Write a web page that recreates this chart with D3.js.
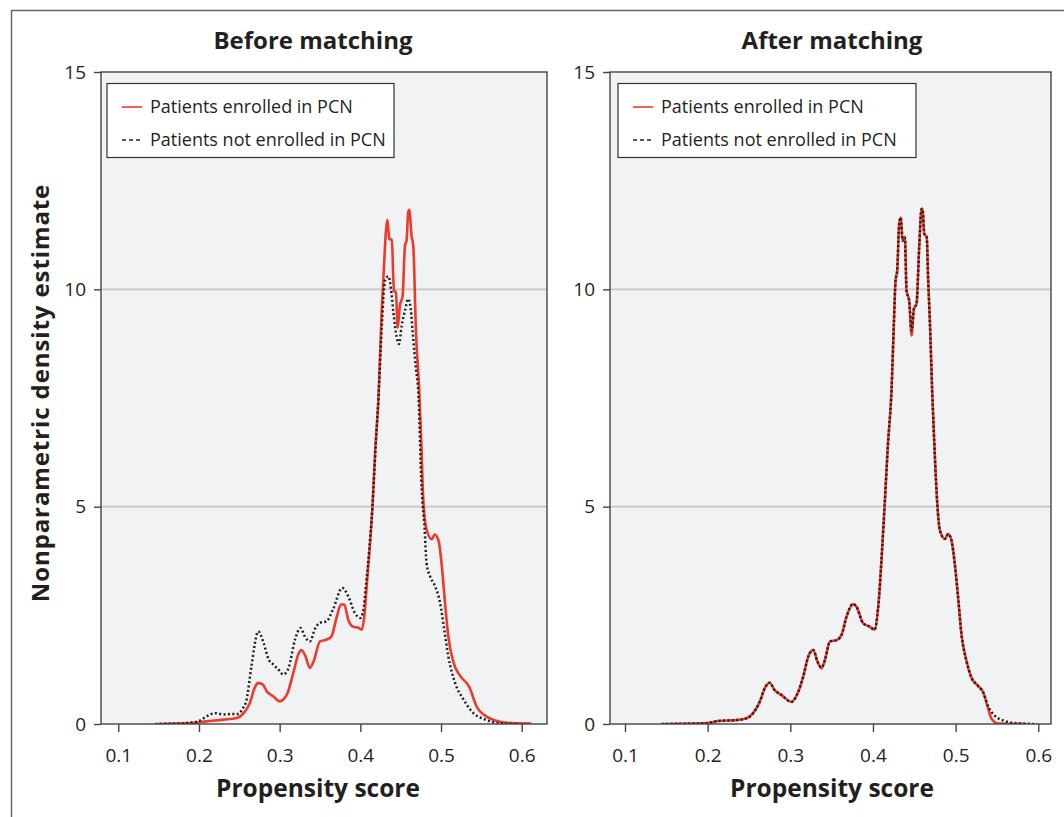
<!DOCTYPE html>
<html>
<head>
<meta charset="utf-8">
<script src="https://cdnjs.cloudflare.com/ajax/libs/d3/7.8.5/d3.min.js"></script>
<style>
	body { margin: 0; background: #fff; }
	svg { display: block; font-family: "Open Sans", sans-serif; }
</style>
</head>
<body>
<svg class="svgWrapper" width="1064" height="817"></svg>
<script>

//values: [propensity score, density]
const beforeEnrolled = [
	[0.149,0],[0.17,0.01],[0.19,0.02],[0.2,0.04],[0.209,0.06],[0.23,0.1],[0.247,0.14],[0.255,0.24],
	[0.263,0.48],[0.269,0.83],[0.273,0.94],[0.279,0.91],[0.284,0.75],[0.292,0.64],[0.3,0.52],[0.309,0.68],
	[0.317,1.18],[0.323,1.6],[0.327,1.7],[0.332,1.56],[0.3375,1.29],[0.342,1.44],[0.35,1.9],[0.358,1.94],
	[0.364,2.01],[0.371,2.48],[0.376,2.75],[0.38,2.75],[0.385,2.4],[0.391,2.24],[0.398,2.21],[0.402,2.17],
	[0.405,2.5],[0.408,3.2],[0.4115,4.02],[0.415,5.0],[0.4185,6.32],[0.4224,7.47],[0.4266,9.55],[0.4285,10.24],
	[0.4335,11.6],[0.436,11.16],[0.439,11.14],[0.4417,9.97],[0.4441,9.93],[0.4463,9.12],[0.449,9.62],[0.4524,9.85],
	[0.4553,11.0],[0.4573,11.12],[0.4593,11.77],[0.4606,11.83],[0.4635,11.23],[0.4656,11.0],[0.469,9.0],[0.4729,7.71],
	[0.4754,6.55],[0.478,5.17],[0.482,4.48],[0.4887,4.25],[0.492,4.36],[0.497,4.21],[0.501,3.63],[0.5053,2.71],
	[0.509,2.02],[0.5155,1.41],[0.524,1.1],[0.5345,0.87],[0.545,0.37],[0.555,0.19],[0.5716,0.06],[0.588,0.02],[0.612,0.01]
];

const beforeNotEnrolled = [
	[0.146,0],[0.17,0.01],[0.19,0.03],[0.199,0.06],[0.21,0.18],[0.22,0.25],[0.23,0.22],[0.24,0.23],[0.248,0.23],
	[0.254,0.35],[0.259,0.56],[0.265,1.33],[0.2735,2.13],[0.28,1.87],[0.2865,1.48],[0.292,1.37],[0.2985,1.25],
	[0.3045,1.14],[0.311,1.29],[0.319,1.94],[0.326,2.21],[0.331,2.02],[0.3375,1.9],[0.344,2.2],[0.35,2.33],
	[0.358,2.36],[0.366,2.63],[0.3776,3.13],[0.385,2.94],[0.393,2.56],[0.4,2.44],[0.4035,2.6],[0.407,3.2],
	[0.411,4.0],[0.415,5.0],[0.419,6.4],[0.4224,7.47],[0.4266,9.16],[0.4306,10.2],[0.4348,10.3],[0.438,10.0],
	[0.441,9.47],[0.444,9.01],[0.448,8.74],[0.4512,9.16],[0.4553,9.51],[0.4593,9.78],[0.4624,9.55],[0.4656,8.85],
	[0.469,8.16],[0.4716,7.71],[0.476,5.4],[0.4797,4.48],[0.482,3.71],[0.4864,3.4],[0.4926,3.17],[0.4988,2.79],
	[0.504,2.17],[0.509,1.56],[0.5175,0.94],[0.528,0.56],[0.538,0.29],[0.555,0.1],[0.5728,0.02],[0.5935,0]
];

const afterEnrolled = [
	[0.1444,0],[0.18,0.01],[0.199,0.02],[0.213,0.07],[0.235,0.09],[0.247,0.13],[0.255,0.25],[0.263,0.51],
	[0.269,0.82],[0.275,0.95],[0.281,0.78],[0.289,0.67],[0.3015,0.51],[0.3096,0.74],[0.3156,1.09],[0.3217,1.55],
	[0.3277,1.7],[0.333,1.43],[0.3378,1.28],[0.3418,1.47],[0.348,1.9],[0.356,1.93],[0.362,2.05],[0.368,2.47],
	[0.376,2.76],[0.38,2.7],[0.388,2.32],[0.396,2.24],[0.402,2.17],[0.406,2.63],[0.408,3.09],[0.411,4.0],
	[0.414,5.0],[0.418,6.4],[0.4225,7.71],[0.4253,9.23],[0.4273,10.2],[0.4293,10.43],[0.4317,11.51],[0.4337,11.65],
	[0.4358,11.12],[0.4386,11.2],[0.4406,9.97],[0.4438,9.74],[0.4467,8.94],[0.4495,9.55],[0.4527,9.67],[0.4559,10.97],
	[0.4588,11.85],[0.46,11.85],[0.462,11.28],[0.465,11.2],[0.4668,10.2],[0.4688,9.28],[0.4716,7.67],[0.4749,6.14],
	[0.4778,5.07],[0.481,4.45],[0.487,4.26],[0.491,4.37],[0.495,4.22],[0.499,3.68],[0.503,2.91],[0.507,2.07],
	[0.513,1.46],[0.519,1.07],[0.527,0.88],[0.5333,0.73],[0.539,0.38],[0.5434,0.12],[0.5514,0.01],[0.585,0]
];

const afterNotEnrolled = [
	[0.1444,0],[0.18,0.01],[0.199,0.02],[0.213,0.07],[0.235,0.09],[0.247,0.13],[0.255,0.25],[0.263,0.51],
	[0.269,0.82],[0.275,0.95],[0.281,0.78],[0.289,0.67],[0.3015,0.51],[0.3096,0.74],[0.3156,1.09],[0.3217,1.55],
	[0.3277,1.7],[0.333,1.43],[0.3378,1.3],[0.3418,1.47],[0.348,1.9],[0.356,1.93],[0.362,2.05],[0.368,2.47],
	[0.376,2.76],[0.38,2.7],[0.388,2.32],[0.396,2.24],[0.402,2.17],[0.406,2.63],[0.408,3.09],[0.411,4.0],
	[0.414,5.0],[0.418,6.4],[0.4225,7.71],[0.4253,9.23],[0.4273,10.2],[0.4293,10.43],[0.4317,11.51],[0.4337,11.65],
	[0.4358,11.12],[0.4386,11.2],[0.4406,9.97],[0.4438,9.74],[0.4467,9.05],[0.4495,9.55],[0.4527,9.67],[0.4559,10.97],
	[0.4588,11.85],[0.46,11.85],[0.462,11.28],[0.465,11.2],[0.4668,10.2],[0.4688,9.28],[0.4716,7.67],[0.4749,6.14],
	[0.4778,5.07],[0.481,4.45],[0.487,4.26],[0.491,4.37],[0.495,4.22],[0.499,3.68],[0.503,2.91],[0.507,2.07],
	[0.513,1.46],[0.519,1.07],[0.527,0.88],[0.5333,0.73],[0.539,0.42],[0.5474,0.19],[0.5575,0.08],[0.5736,0.02],[0.5985,0]
];

const xTicks = [0.1, 0.2, 0.3, 0.4, 0.5, 0.6];
const yTicks = [0, 5, 10, 15];
const gridTicks = [5, 10];
const legendLabels = ['Patients enrolled in PCN', 'Patients not enrolled in PCN'];

const red = '#ee3a2a';
const ink = '#231f20';

const svgObj = d3.select('.svgWrapper');

//outer figure frame (only top and left edges show)
svgObj.append('path')
	.attr('d', 'M11.5,817 V10.5 H1064')
	.attr('fill', 'none')
	.attr('stroke', '#666')
	.attr('stroke-width', 1.5);

function buildPanel(opts){
	const { id, left, right, top, bottom, xRange, title, titleX, labelX, legendBox, enrolled, notEnrolled } = opts;

	const x = d3.scaleLinear().domain([0.1, 0.6]).range(xRange);
	const y = d3.scaleLinear().domain([0, 15]).range([bottom, top]);

	const g = svgObj.append('g');

	g.append('rect')
		.attr('x', left).attr('y', top)
		.attr('width', right - left).attr('height', bottom - top)
		.attr('fill', '#f1f2f4');

	g.selectAll('.grid').data(gridTicks).join('line')
		.attr('class', 'grid')
		.attr('x1', left).attr('x2', right)
		.attr('y1', d => y(d)).attr('y2', d => y(d))
		.attr('stroke', '#c6c6c6')
		.attr('stroke-width', 1.6);

	g.append('clipPath').attr('id', 'clip' + id)
		.append('rect')
		.attr('x', left).attr('y', top)
		.attr('width', right - left).attr('height', bottom - top);

	const line = d3.line()
		.x(d => x(d[0]))
		.y(d => y(d[1]))
		.curve(d3.curveMonotoneX);

	g.append('path')
		.datum(enrolled)
		.attr('clip-path', 'url(#clip' + id + ')')
		.attr('d', line)
		.attr('fill', 'none')
		.attr('stroke', red)
		.attr('stroke-width', 2.6)
		.attr('stroke-linejoin', 'round');

	g.append('path')
		.datum(notEnrolled)
		.attr('clip-path', 'url(#clip' + id + ')')
		.attr('d', line)
		.attr('fill', 'none')
		.attr('stroke', ink)
		.attr('stroke-width', 2.5)
		.attr('stroke-dasharray', '2,2.4');

	g.append('rect')
		.attr('x', left).attr('y', top)
		.attr('width', right - left).attr('height', bottom - top)
		.attr('fill', 'none')
		.attr('stroke', '#444')
		.attr('stroke-width', 1.4);

	const yAxis = g.append('g')
		.attr('transform', `translate(${left},0)`)
		.call(d3.axisLeft(y).tickValues(yTicks).tickSize(7).tickPadding(8));

	const xAxis = g.append('g')
		.attr('transform', `translate(0,${bottom})`)
		.call(d3.axisBottom(x).tickValues(xTicks).tickFormat(d3.format('.1f')).tickSize(8).tickPadding(17));

	[yAxis, xAxis].forEach(ax => {
		ax.select('.domain').remove();
		ax.selectAll('line').attr('stroke', '#444').attr('stroke-width', 1.4);
		ax.selectAll('text')
			.attr('fill', ink)
			.style('font-size', '19px')
			.style('font-family', '"Open Sans", sans-serif');
	});

	g.append('text')
		.attr('x', titleX).attr('y', 49)
		.attr('text-anchor', 'middle')
		.attr('fill', ink)
		.style('font-size', '24px')
		.style('font-weight', 'bold')
		.text(title);

	g.append('text')
		.attr('x', labelX).attr('y', 797)
		.attr('text-anchor', 'middle')
		.attr('fill', ink)
		.style('font-size', '24.5px')
		.style('font-weight', 'bold')
		.text('Propensity score');

	//legend
	const lg = g.append('g');
	lg.append('rect')
		.attr('x', legendBox[0]).attr('y', 83.5)
		.attr('width', legendBox[1] - legendBox[0]).attr('height', 74)
		.attr('fill', '#fff')
		.attr('stroke', '#333')
		.attr('stroke-width', 1.2);

	const rows = lg.selectAll('.row').data(legendLabels).join('g')
		.attr('class', 'row')
		.attr('transform', (d, i) => `translate(${legendBox[0] + 15},${107 + i * 33})`);

	rows.append('line')
		.attr('x1', 0).attr('x2', 20)
		.attr('stroke', (d, i) => i === 0 ? red : ink)
		.attr('stroke-width', 1.6)
		.attr('stroke-dasharray', (d, i) => i === 0 ? null : '4,3');

	rows.append('text')
		.attr('x', 28).attr('dy', '0.35em')
		.attr('fill', ink)
		.style('font-size', '18px')
		.text(d => d);
}

buildPanel({
	id: 'Before',
	left: 101, right: 547, top: 72, bottom: 724,
	xRange: [118.3, 521.7],
	title: 'Before matching', titleX: 313, labelX: 318,
	legendBox: [107, 394],
	enrolled: beforeEnrolled,
	notEnrolled: beforeNotEnrolled
});

buildPanel({
	id: 'After',
	left: 610, right: 1051, top: 72, bottom: 724,
	xRange: [625, 1038.3],
	title: 'After matching', titleX: 832, labelX: 832,
	legendBox: [618, 916],
	enrolled: afterEnrolled,
	notEnrolled: afterNotEnrolled
});

svgObj.append('text')
	.attr('transform', 'translate(49,393) rotate(-90)')
	.attr('text-anchor', 'middle')
	.attr('fill', ink)
	.style('font-size', '24px')
	.style('font-weight', 'bold')
	.style('letter-spacing', '0.9px')
	.text('Nonparametric density estimate');

</script>
</body>
</html>
